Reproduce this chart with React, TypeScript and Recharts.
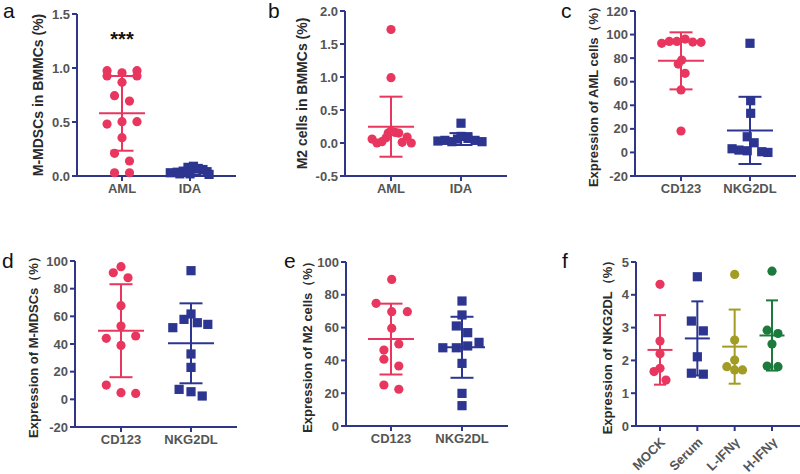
import React from 'react';
import { ScatterChart, Scatter, XAxis, YAxis, ErrorBar, ReferenceDot } from 'recharts';

// COLOURS
const PINK = '#e8365f';
const NAVY = '#2c3590';
const OLIVE = '#a29c24';
const GREEN = '#1b7a3c';
const AXIS = '#2f3587';
const FONT = '"Liberation Sans", Arial, sans-serif';

// DATA: each point is [jitter in category units, value]
// panel a
const aCategories = ['AML', 'IDA'];
const aAML = [[-0.22, 0.975], [-0.22, 0.926], [0, 0.956], [0.22, 0.975], [0.22, 0.926], [0, 0.867], [-0.11, 0.744], [0.11, 0.694], [-0.22, 0.481], [0, 0.503], [0.22, 0.503], [0, 0.355], [-0.11, 0.21], [0.11, 0.139], [-0.11, 0.03], [0.11, 0.03]];
const aIDA = [[-0.29, 0.03], [-0.19, 0.035], [-0.1, 0.045], [-0.03, 0.08], [0.05, 0.09], [0.12, 0.07], [0.19, 0.06], [0.25, 0.04], [0.28, 0.015], [0, 0.02], [-0.15, 0.02]];
const aMeans = [0.58, 0.04];
const aSDs = [0.346, 0.025];
const aTicks = [0, 0.5, 1, 1.5];

// panel b
const bCategories = ['AML', 'IDA'];
const bAML = [[0, 1.72], [0, 0.99], [-0.27, 0.06], [-0.2, 0.0], [-0.13, 0.02], [-0.07, 0.08], [-0.04, 0.15], [0, 0.18], [0.06, 0.16], [0.11, 0.15], [0.16, 0.01], [0.23, 0.09], [0.29, 0.0]];
const bIDA = [[-0.33, 0.03], [-0.23, 0.04], [-0.13, 0.02], [-0.05, 0.06], [0, 0.3], [0, 0.1], [0.1, 0.07], [0.2, 0.04], [0.3, 0.02]];
const bMeans = [0.247, 0.06];
const bSDs = [0.455, 0.09];
const bTicks = [-0.5, 0, 0.5, 1, 1.5, 2];

// panel c
const cCategories = ['CD123', 'NKG2DL'];
const cCD123 = [[-0.28, 92.6], [-0.17, 94.2], [-0.06, 94.2], [0.06, 96.2], [0.17, 93.6], [0.29, 93.4], [0.01, 78.4], [-0.04, 75], [0.06, 67.1], [0, 53], [0, 18.2]];
const cNKG2DL = [[0, 92.6], [0.01, 43.9], [0.01, 33.2], [-0.04, 13.3], [0.06, 8.2], [-0.26, 3.1], [-0.16, 2.0], [-0.04, 1.4], [0.17, 0.6], [0.26, 0]];
const cMeans = [77.7, 18.7];
const cSDs = [24.2, 28.5];
const cTicks = [-20, 0, 20, 40, 60, 80, 100, 120];

// panel d
const dCategories = ['CD123', 'NKG2DL'];
const dCD123 = [[-0.11, 91.5], [0, 95.9], [0.1, 87.9], [0, 67.7], [0, 53], [-0.21, 44.1], [0.21, 45.8], [0, 39], [-0.21, 10.3], [0, 4.8], [0.21, 4.3]];
const dNKG2DL = [[0, 93], [0, 61.7], [-0.1, 57.8], [0.09, 55.4], [-0.26, 51.8], [0.24, 54.2], [0, 32.8], [0, 23.1], [-0.17, 7.2], [0, 5.5], [0.16, 2.4]];
const dMeans = [49.6, 40.5];
const dSDs = [33.6, 28.9];
const dTicks = [-20, 0, 20, 40, 60, 80, 100];

// panel e
const eCategories = ['CD123', 'NKG2DL'];
const eCD123 = [[0.01, 89.4], [-0.21, 74.8], [0.01, 69.7], [0.23, 69.7], [0.01, 59.6], [-0.1, 46.3], [0.11, 50], [-0.1, 40.7], [0.11, 36.6], [-0.1, 25], [0.11, 22.4]];
const eNKG2DL = [[0, 76.2], [0, 67.7], [-0.08, 61], [0.08, 56.9], [-0.27, 47.7], [-0.08, 47.7], [0.08, 48.8], [0.24, 51], [0, 38.2], [0, 19.9], [0, 12.4]];
const eMeans = [53, 48];
const eSDs = [21.6, 18.6];
const eTicks = [0, 20, 40, 60, 80, 100];

// panel f
const fCategories = ['MOCK', 'Serum', 'L-IFNγ', 'H-IFNγ'];
const fMOCK = [[0, 4.32], [0, 2.59], [0, 2.2], [0, 1.76], [-0.16, 1.66], [0.16, 1.4]];
const fSerum = [[0, 4.55], [-0.16, 3.2], [0.16, 2.9], [0, 2.11], [-0.16, 1.61], [0.16, 1.58]];
const fLIFN = [[0, 4.62], [0, 2.62], [0, 2.01], [-0.21, 1.81], [0, 1.71], [0.21, 1.71]];
const fHIFN = [[0, 4.72], [-0.13, 2.92], [0.16, 2.82], [0, 2.5], [-0.13, 1.83], [0.16, 1.81]];
const fMeans = [2.32, 2.67, 2.42, 2.76];
const fSDs = [1.06, 1.13, 1.13, 1.07];
const fTicks = [0, 1, 2, 3, 4, 5];

type Group = { points: number[][]; color: string; square?: boolean };

interface PanelProps {
    letter: string;
    letterX: number;
    letterY: number;
    axisX: number;
    plotTop: number;
    plotW: number;
    plotH: number;
    yAxisW: number;
    yDomain: [number, number];
    yTicks: number[];
    decimals: number;
    xDomain: [number, number];
    categories: string[];
    groups: Group[];
    means: number[];
    sds: number[];
    yLabel: string;
    labelSize: number;
    meanHalf: number;
    capHalf: number;
    dotR: number;
    rotateX?: boolean;
    star?: { y: number; text: string };
}

const Dot = (color: string, square: boolean | undefined, r: number) => (p: any) =>
    square
        ? <rect x={p.cx - r} y={p.cy - r} width={r * 2} height={r * 2} fill={color} />
        : <circle cx={p.cx} cy={p.cy} r={r} fill={color} />;

const MeanLine = (color: string, half: number) => (p: any) =>
    <line x1={p.cx - half} x2={p.cx + half} y1={p.cy} y2={p.cy} stroke={color} strokeWidth={2} />;

// COMPONENT
const Panel: React.FC<PanelProps> = (props) => {
    const mTop = 30;
    const mRight = 6;
    const xAxisH = props.rotateX ? 60 : 40;
    const width = props.yAxisW + props.plotW + mRight;
    const height = mTop + props.plotH + xAxisH;
    const tickStyle = { fill: '#555', fontSize: 13, fontWeight: 'bold', fontFamily: FONT };

    const RotTick = (t: any) => (
        <text x={t.x + 6} y={t.y + 9} transform={`rotate(-45 ${t.x + 6} ${t.y + 9})`} textAnchor="end"
            fill="#555" fontSize={13} fontWeight="bold" fontFamily={FONT}>
            {props.categories[t.payload.value]}
        </text>
    );

    return (
        <>
            <div style={{ position: 'absolute', left: props.letterX, top: props.letterY - 18, fontSize: 21, lineHeight: '21px', fontFamily: FONT, color: '#111' }}>
                {props.letter}
            </div>
            <div style={{ position: 'absolute', left: props.axisX - props.yAxisW, top: props.plotTop - mTop }}>
                <ScatterChart width={width} height={height} margin={{ top: mTop, right: mRight, bottom: 0, left: 0 }}>
                    <XAxis type="number" dataKey="x" domain={props.xDomain} ticks={props.categories.map((_, i) => i)} interval={0}
                        height={xAxisH} tickSize={5} tickMargin={3}
                        axisLine={{ stroke: AXIS, strokeWidth: 2 }} tickLine={{ stroke: AXIS, strokeWidth: 2 }}
                        tick={props.rotateX ? RotTick : tickStyle}
                        tickFormatter={(v: number) => props.categories[v]} />
                    <YAxis type="number" dataKey="y" domain={props.yDomain} ticks={props.yTicks} interval={0}
                        width={props.yAxisW} tickSize={5} tickMargin={2}
                        axisLine={{ stroke: AXIS, strokeWidth: 2 }} tickLine={{ stroke: AXIS, strokeWidth: 2 }}
                        tick={tickStyle} tickFormatter={(v: number) => v.toFixed(props.decimals)}
                        label={{ value: props.yLabel, angle: -90, position: 'center', fill: '#2a2a2a', fontSize: props.labelSize, fontWeight: 'bold', fontFamily: FONT }} />
                    {props.groups.map((g, i) => (
                        <Scatter key={'p' + i} data={g.points.map(([dx, v]) => ({ x: i + dx, y: v }))}
                            shape={Dot(g.color, g.square, props.dotR)} isAnimationActive={false} />
                    ))}
                    {props.groups.map((g, i) => (
                        <Scatter key={'m' + i} data={[{ x: i, y: props.means[i], err: props.sds[i] }]}
                            shape={MeanLine(g.color, props.meanHalf)} isAnimationActive={false}>
                            <ErrorBar dataKey="err" direction="y" width={props.capHalf} stroke={g.color} strokeWidth={2} isAnimationActive={false} />
                        </Scatter>
                    ))}
                    {props.star && (
                        <ReferenceDot x={0} y={props.star.y} r={0}
                            shape={(p: any) => <text x={p.cx} y={p.cy} textAnchor="middle" fontSize={20} fontWeight="bold" fontFamily={FONT} fill="#111">{props.star!.text}</text>} />
                    )}
                </ScatterChart>
            </div>
        </>
    );
};

const App: React.FC = () => {
    return (
        <div style={{ position: 'absolute', left: 0, top: 0, width: 800, height: 474, overflow: 'hidden', background: '#fff' }}>
            <Panel letter="a" letterX={3} letterY={18} axisX={77} plotTop={14} plotW={159} plotH={162} yAxisW={78}
                yDomain={[0, 1.5]} yTicks={aTicks} decimals={1} xDomain={[-0.662, 1.676]} categories={aCategories}
                groups={[{ points: aAML, color: PINK }, { points: aIDA, color: NAVY, square: true }]}
                means={aMeans} sds={aSDs} yLabel="M-MDSCs in BMMCs (%)" labelSize={14} meanHalf={23} capHalf={11.5} dotR={4.6}
                star={{ y: 1.2, text: '***' }} />
            <Panel letter="b" letterX={268} letterY={18} axisX={345} plotTop={11} plotW={162} plotH={165} yAxisW={86}
                yDomain={[-0.5, 2]} yTicks={bTicks} decimals={1} xDomain={[-0.657, 1.657]} categories={bCategories}
                groups={[{ points: bAML, color: PINK }, { points: bIDA, color: NAVY, square: true }]}
                means={bMeans} sds={bSDs} yLabel="M2 cells in BMMCs (%)" labelSize={14} meanHalf={23} capHalf={11.5} dotR={4.6} />
            <Panel letter="c" letterX={561} letterY={18} axisX={635} plotTop={11} plotW={161} plotH={165} yAxisW={84}
                yDomain={[-20, 120]} yTicks={cTicks} decimals={0} xDomain={[-0.667, 1.667]} categories={cCategories}
                groups={[{ points: cCD123, color: PINK }, { points: cNKG2DL, color: NAVY, square: true }]}
                means={cMeans} sds={cSDs} yLabel="Expression of AML cells（%）" labelSize={13} meanHalf={23} capHalf={11.5} dotR={4.6} />
            <Panel letter="d" letterX={2} letterY={268} axisX={75} plotTop={261} plotW={162} plotH={166} yAxisW={84}
                yDomain={[-20, 100]} yTicks={dTicks} decimals={0} xDomain={[-0.657, 1.657]} categories={dCategories}
                groups={[{ points: dCD123, color: PINK }, { points: dNKG2DL, color: NAVY, square: true }]}
                means={dMeans} sds={dSDs} yLabel="Expression of M-MDSCs（%）" labelSize={13} meanHalf={23} capHalf={11.5} dotR={4.6} />
            <Panel letter="e" letterX={284} letterY={268} axisX={346} plotTop={262} plotW={162} plotH={164} yAxisW={78}
                yDomain={[0, 100]} yTicks={eTicks} decimals={0} xDomain={[-0.634, 1.648]} categories={eCategories}
                groups={[{ points: eCD123, color: PINK }, { points: eNKG2DL, color: NAVY, square: true }]}
                means={eMeans} sds={eSDs} yLabel="Expression of M2 cells（%）" labelSize={13} meanHalf={23} capHalf={11.5} dotR={4.6} />
            <Panel letter="f" letterX={562} letterY={268} axisX={636} plotTop={262} plotW={164} plotH={164} yAxisW={58}
                yDomain={[0, 5]} yTicks={fTicks} decimals={0} xDomain={[-0.643, 3.75]} categories={fCategories}
                groups={[{ points: fMOCK, color: PINK }, { points: fSerum, color: NAVY, square: true }, { points: fLIFN, color: OLIVE }, { points: fHIFN, color: GREEN }]}
                means={fMeans} sds={fSDs} yLabel="Expression of NKG2DL（%）" labelSize={13} meanHalf={12.5} capHalf={6} dotR={4.6} rotateX />
        </div>
    );
};

export default App;
